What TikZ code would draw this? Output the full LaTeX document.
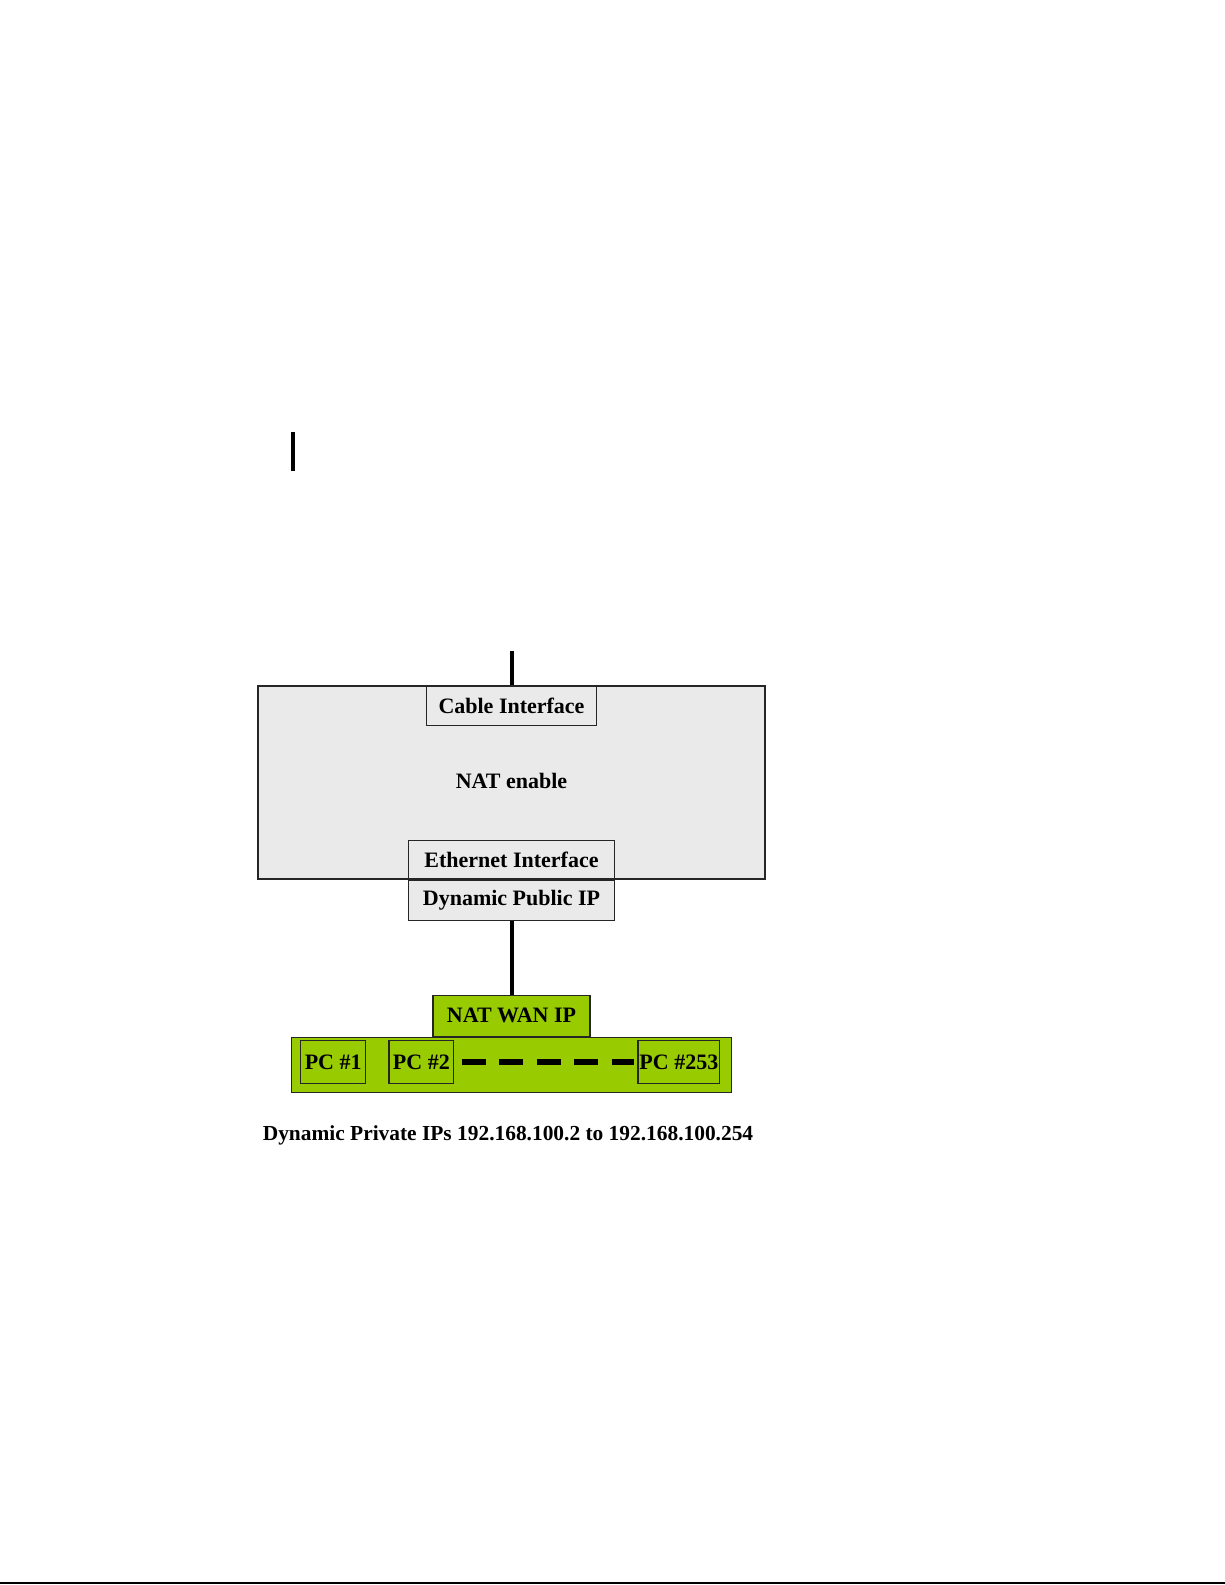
\documentclass[tikz,border=0pt]{standalone}
\usepackage{fontspec}
\setmainfont{Liberation Serif}
\usetikzlibrary{positioning}
\definecolor{boxgray}{HTML}{EAEAEA}
\definecolor{natgreen}{HTML}{99CC00}
\tikzset{
     box node/.style={draw=black!85, line width=0.6pt, inner sep=0pt, font=\fontsize{11}{13}\selectfont\bfseries},
      graybox/.style   = {box node, fill=boxgray},
      greenbox/.style = {box node, fill=natgreen},
      pcbox/.style = {box node, minimum height=21.3pt},
      cableedge/.style = {black, line width=2pt},
      rangeedge/.style = {black, line width=3pt, dash pattern=on 12pt off 6.75pt},
      caption node/.style={inner sep=0pt, font=\fontsize{10.7}{13}\selectfont\bfseries},
    }

\begin{document}
\begin{tikzpicture}[x=0.5pt,y=-0.5pt]
        \useasboundingbox (0,0) rectangle (1225,1585);
        \node [graybox, minimum width=253.5pt, minimum height=96.5pt, text depth=2pt] (nat) at (511.5,782.5) {NAT enable};
        \node [graybox, anchor=north, minimum width=85pt, minimum height=19.75pt] (cable) at (nat.north) {Cable Interface};
        \node [graybox, anchor=south, minimum width=102.75pt, minimum height=19.25pt] (ether) at (nat.south) {Ethernet Interface};
        \node [graybox, below=0pt of ether, minimum width=102.75pt, minimum height=20pt] (dyn) {Dynamic Public IP};
        \node [greenbox, below=37pt of dyn, minimum width=78.5pt, minimum height=20.35pt] (wan) {NAT WAN IP};
        \node [greenbox, below=0pt of wan, minimum width=220pt, minimum height=27.5pt] (lan) {};
        \node [pcbox, minimum width=32.5pt] (pc1) at (333.2,1062) {PC \#1};
        \node [pcbox, minimum width=32.35pt] (pc2) at (421.35,1062) {PC \#2};
        \node [pcbox, minimum width=40.85pt] (pc253) at (678.85,1062) {PC \#253};
        \node [caption node] (range) at (508,1135) {Dynamic Private IPs 192.168.100.2 to 192.168.100.254};
        \coordinate (uplink) at (511.5,651);
        \coordinate (mark top) at (293,432);
        \coordinate (mark bottom) at (293,471);
        \coordinate (rule left) at (0,1583.3);
        \coordinate (rule right) at (1225,1583.3);
        \draw [cableedge] (uplink) -- (cable.north);
        \draw [cableedge] (dyn) -- (wan);
        \draw [rangeedge, shorten <=3.65pt, shorten >=1.5pt] (pc2) -- (pc253);
        \draw [cableedge] (mark top) -- (mark bottom);
        \draw [black, line width=0.85pt] (rule left) -- (rule right);
    \end{tikzpicture}
\end{document}
